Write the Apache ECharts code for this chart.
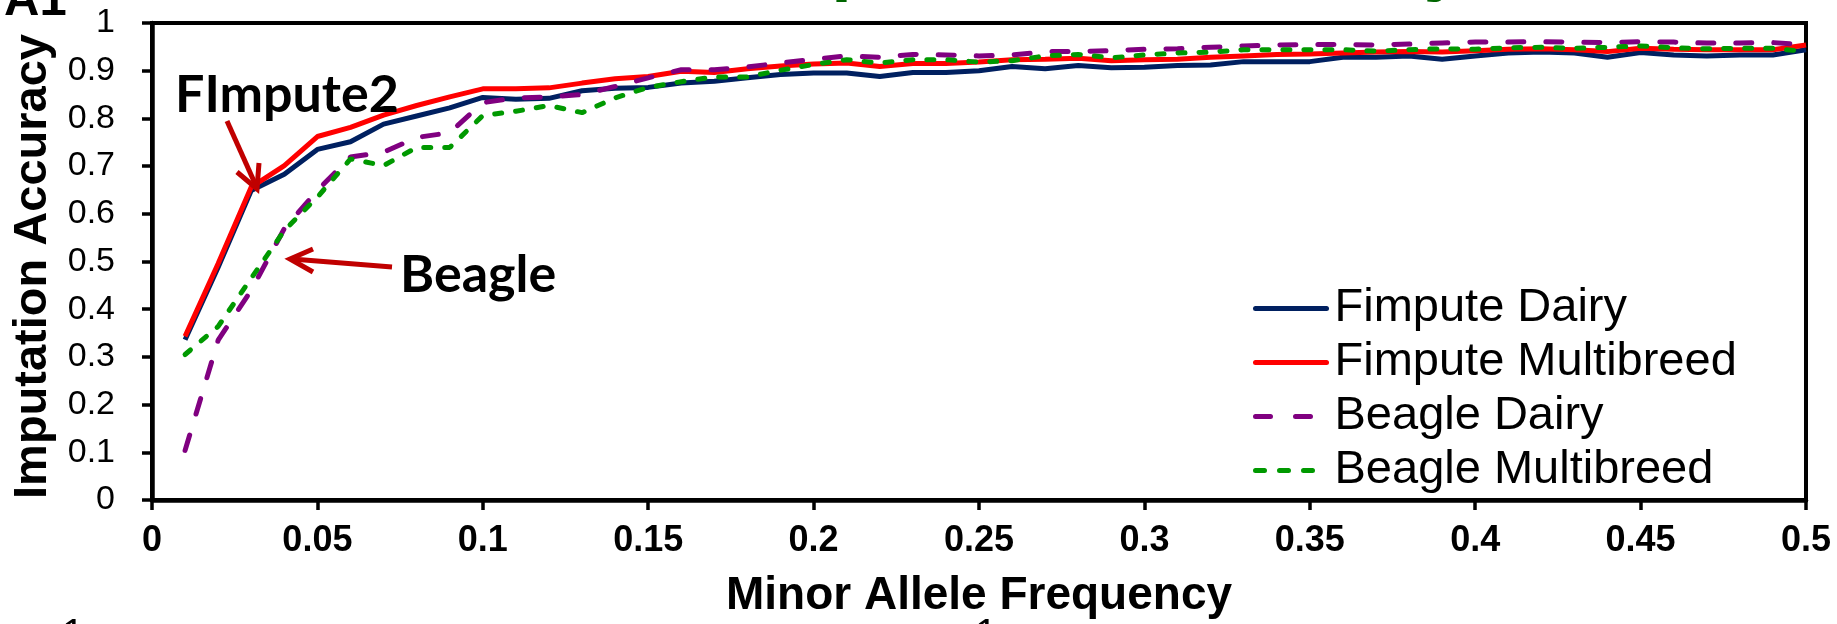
<!DOCTYPE html>
<html>
<head>
<meta charset="utf-8">
<script src="https://cdn.jsdelivr.net/npm/echarts@6/dist/echarts.min.js"></script>
<style>
html,body{margin:0;padding:0;background:#fff;}
#chart{width:1837px;height:624px;}
</style>
</head>
<body>
<div id="chart"></div>
<script>
// ---- data ----
const maf = [0.01,0.02,0.03,0.04,0.05,0.06,0.07,0.08,0.09,0.10,
             0.11,0.12,0.13,0.14,0.15,0.16,0.17,0.18,0.19,0.20,
             0.21,0.22,0.23,0.24,0.25,0.26,0.27,0.28,0.29,0.30,
             0.31,0.32,0.33,0.34,0.35,0.36,0.37,0.38,0.39,0.40,
             0.41,0.42,0.43,0.44,0.45,0.46,0.47,0.48,0.49,0.50];

const fimputeDairy = [0.336,0.488,0.649,0.683,0.735,0.751,0.788,0.805,0.822,0.844,
                      0.840,0.842,0.858,0.863,0.865,0.874,0.878,0.885,0.892,0.895,
                      0.895,0.888,0.896,0.896,0.900,0.909,0.904,0.911,0.906,0.907,
                      0.911,0.912,0.919,0.919,0.919,0.928,0.928,0.931,0.924,0.931,
                      0.937,0.939,0.937,0.928,0.938,0.933,0.931,0.933,0.933,0.944];

const fimputeMulti = [0.343,0.496,0.656,0.701,0.762,0.781,0.807,0.827,0.845,0.862,
                      0.862,0.864,0.874,0.883,0.888,0.899,0.896,0.904,0.910,0.914,
                      0.916,0.909,0.915,0.915,0.918,0.923,0.924,0.926,0.921,0.923,
                      0.924,0.928,0.931,0.934,0.935,0.937,0.939,0.940,0.939,0.942,
                      0.945,0.946,0.944,0.940,0.947,0.945,0.944,0.944,0.944,0.954];

const beagleDairy = [0.104,0.335,0.440,0.569,0.649,0.719,0.729,0.760,0.770,0.833,
                     0.843,0.845,0.850,0.867,0.885,0.902,0.902,0.908,0.916,0.924,
                     0.931,0.928,0.934,0.933,0.931,0.933,0.940,0.940,0.942,0.945,
                     0.946,0.949,0.952,0.954,0.955,0.955,0.954,0.956,0.958,0.960,
                     0.960,0.961,0.960,0.959,0.961,0.960,0.958,0.958,0.959,0.954];

const beagleMulti = [0.305,0.364,0.465,0.565,0.635,0.715,0.701,0.739,0.739,0.806,
                     0.815,0.827,0.812,0.843,0.865,0.877,0.887,0.887,0.901,0.913,
                     0.923,0.916,0.923,0.923,0.918,0.921,0.931,0.934,0.927,0.933,
                     0.937,0.939,0.944,0.944,0.944,0.944,0.941,0.944,0.946,0.945,
                     0.948,0.949,0.947,0.949,0.952,0.948,0.946,0.947,0.947,0.940];

const seriesNames = ['Fimpute Dairy','Fimpute Multibreed','Beagle Dairy','Beagle Multibreed'];
const xTicks = [0,0.05,0.1,0.15,0.2,0.25,0.3,0.35,0.4,0.45,0.5];

const pair = arr => maf.map((x,i)=>[x, arr[i]]);

const chart = echarts.init(document.getElementById('chart'), null, {renderer:'canvas'});
const F = '"Liberation Sans", Arial, sans-serif';

const option = {
  animation: false,
  backgroundColor: '#ffffff',
  grid: {
    left: 152, right: 31, top: 23, bottom: 121,
    show: true, borderColor: '#000', borderWidth: 4, backgroundColor: 'transparent'
  },
  legend: {
    orient: 'vertical',
    left: 1253, top: 285,
    padding: 0,
    itemGap: 7,
    itemWidth: 71,
    itemHeight: 14,
    data: [
      { name: seriesNames[0] },
      { name: seriesNames[1] },
      { name: seriesNames[2], lineStyle: { type: [15, 25], cap: 'round', width: 5 } },
      { name: seriesNames[3], lineStyle: { type: [9, 15], cap: 'round', width: 5 } }
    ],
    itemStyle: { opacity: 0 },
    lineStyle: { width: 5, cap: 'round' },
    textStyle: { fontFamily: F, fontSize: 47, color: '#000', padding: [0,0,0,3] }
  },
  xAxis: {
    type: 'value', min: 0, max: 0.5, interval: 0.05,
    name: 'Minor Allele Frequency',
    nameLocation: 'middle', nameGap: 73,
    nameTextStyle: { fontFamily: F, fontSize: 46, fontWeight: 'bold', color: '#000' },
    axisLine: { show: true, onZero: false, lineStyle: { color: '#000', width: 4.5 } },
    axisTick: { show: true, inside: false, length: 10, lineStyle: { color: '#000', width: 3.5 } },
    axisLabel: {
      fontFamily: F, fontSize: 36, fontWeight: 'bold', color: '#000', margin: 23,
      formatter: v => String(Math.round(v*100)/100)
    },
    splitLine: { show: false }
  },
  yAxis: {
    type: 'value', min: 0, max: 1, interval: 0.1,
    name: 'Imputation Accuracy',
    nameLocation: 'middle', nameGap: 91,
    nameTextStyle: { fontFamily: F, fontSize: 47, fontWeight: 'bold', color: '#000', padding: [0,10,0,0] },
    axisLine: { show: true, onZero: false, lineStyle: { color: '#000', width: 4.5 } },
    axisTick: { show: true, inside: false, length: 10, lineStyle: { color: '#000', width: 3.5 } },
    axisLabel: {
      fontFamily: F, fontSize: 34, color: '#000', margin: 37,
      formatter: v => String(Math.round(v*10)/10)
    },
    splitLine: { show: false }
  },
  series: [
    { name: seriesNames[0], type: 'line', data: pair(fimputeDairy), symbol: 'none', showSymbol: false,
      lineStyle: { color: '#002060', width: 5 }, itemStyle: { color: '#002060' } },
    { name: seriesNames[1], type: 'line', data: pair(fimputeMulti), symbol: 'none', showSymbol: false,
      lineStyle: { color: '#FF0000', width: 5 }, itemStyle: { color: '#FF0000' } },
    { name: seriesNames[2], type: 'line', data: pair(beagleDairy), symbol: 'none', showSymbol: false,
      lineStyle: { color: '#800080', width: 5, type: [16, 22], cap: 'round' }, itemStyle: { color: '#800080' } },
    { name: seriesNames[3], type: 'line', data: pair(beagleMulti), symbol: 'none', showSymbol: false,
      lineStyle: { color: '#009900', width: 5, type: [7, 14], cap: 'round' }, itemStyle: { color: '#009900' } }
  ],
  graphic: [
    { type: 'text', x: 305, y: -33, z: 10,
      style: { text: 'Minor Allele Imputation accuracy', font: 'bold 74px "Liberation Sans", Arial, sans-serif',
               fill: '#006600', verticalAlign: 'middle', align: 'left' } },
    { type: 'text', x: 4, y: 1, z: 10,
      style: { text: 'A1', font: 'bold 49px "Liberation Sans", Arial, sans-serif',
               fill: '#000', verticalAlign: 'middle', align: 'left' } },
    { type: 'text', x: 62, y: 636, z: 10,
      style: { text: '1', font: '40px "Liberation Sans", Arial, sans-serif',
               fill: '#000', verticalAlign: 'middle', align: 'left' } },
    { type: 'text', x: 975, y: 636, z: 10,
      style: { text: '1', font: '40px "Liberation Sans", Arial, sans-serif',
               fill: '#000', verticalAlign: 'middle', align: 'left' } },
    { type: 'text', x: 175, y: 95, z: 10,
      style: { text: 'FImpute2', font: 'bold 52px Lato, "Open Sans", sans-serif',
               fill: '#000', verticalAlign: 'middle', align: 'left' } },
    { type: 'text', x: 400, y: 275, z: 10,
      style: { text: 'Beagle', font: 'bold 52px Lato, "Open Sans", sans-serif',
               fill: '#000', verticalAlign: 'middle', align: 'left' } },
    { type: 'polyline', z: 10, shape: { points: [[227,121],[257,188]] },
      style: { stroke: '#C00000', lineWidth: 5, fill: null } },
    { type: 'polyline', z: 10, shape: { points: [[237,172],[257,189],[259,163]] },
      style: { stroke: '#C00000', lineWidth: 5, fill: null } },
    { type: 'polyline', z: 10, shape: { points: [[392,267],[292,259]] },
      style: { stroke: '#C00000', lineWidth: 5, fill: null } },
    { type: 'polyline', z: 10, shape: { points: [[313,249],[290,259],[313,272]] },
      style: { stroke: '#C00000', lineWidth: 5, fill: null } }
  ]
};
chart.setOption(option);
</script>
</body>
</html>
